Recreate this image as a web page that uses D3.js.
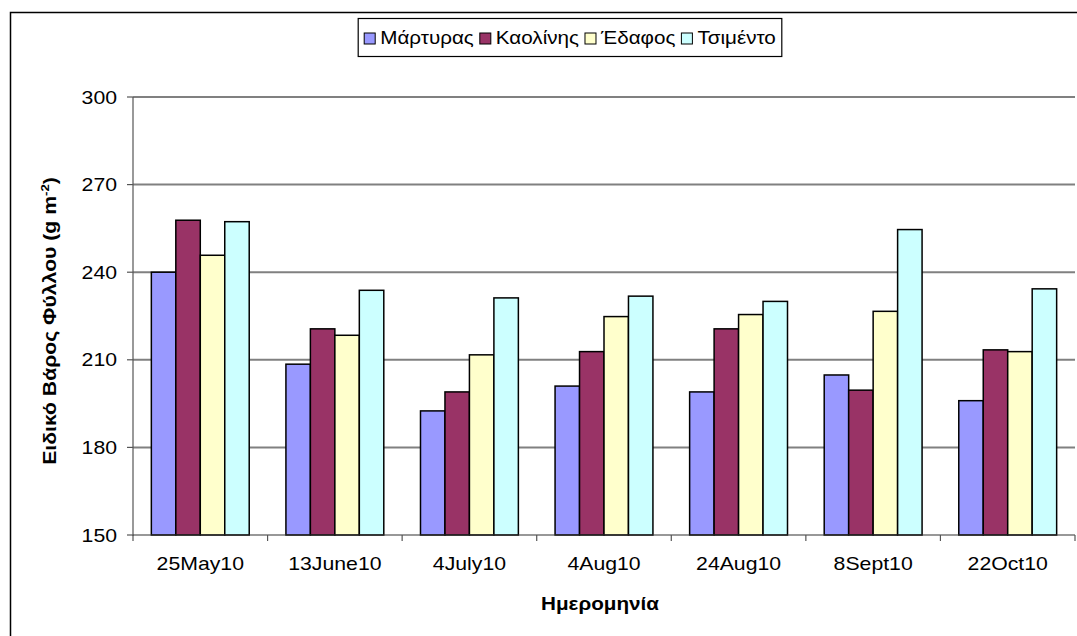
<!DOCTYPE html>
<html>
<head>
<meta charset="utf-8">
<script src="https://cdn.jsdelivr.net/npm/d3@7"></script>
<style>
    body { margin: 0; background: #fff; }
    text { font-family: "Liberation Sans", Arial, sans-serif; fill: #000; }
</style>
</head>
<body>
<div id="chart"></div>
<script>
// values
var categories = ["25May10", "13June10", "4July10", "4Aug10", "24Aug10", "8Sept10", "22Oct10"];
var seriesNames = ["Μάρτυρας", "Καολίνης", "Έδαφος", "Τσιμέντο"];
var martyras = [240, 208.5, 192.5, 201, 199, 204.8, 196];
var kaolinis = [257.8, 220.6, 199, 212.8, 220.6, 199.6, 213.4];
var edafos = [245.8, 218.4, 211.7, 224.8, 225.5, 226.6, 212.8];
var tsimento = [257.3, 233.8, 231.2, 231.8, 230, 254.6, 234.3];
var yTicks = [150, 180, 210, 240, 270, 300];
var colors = ["#9999FF", "#993366", "#FFFFCC", "#CCFFFF"];

var width = 1077, height = 636;
var stretch = 1.18; // the original picture is stretched sideways
var margin = { left: 133, right: 2, top: 97, bottom: 101 };

var svg = d3.select("#chart").append("svg")
    .attr("width", width)
    .attr("height", height);

// outer chart border (runs off the right and bottom of the picture)
svg.append("rect")
    .attr("x", 10.5).attr("y", 12.5)
    .attr("width", 1200).attr("height", 800)
    .attr("fill", "#fff").attr("stroke", "#000").attr("stroke-width", 1.5);

var x0 = d3.scaleBand()
    .domain(categories)
    .range([margin.left, width - margin.right]);

var gap = x0.bandwidth() / 5.5 * 0.75; // excel gap width 150%
var x1 = d3.scaleBand()
    .domain(d3.range(seriesNames.length))
    .range([gap, x0.bandwidth() - gap]);

var y = d3.scaleLinear()
    .domain([150, 300])
    .range([height - margin.bottom, margin.top]);

var table = categories.map(function (c, i) {
    return { cat: c, values: [martyras[i], kaolinis[i], edafos[i], tsimento[i]] };
});

function stretchedText(parent, x, yy, str, anchor) {
    var g = parent.append("g")
        .attr("transform", "translate(" + x + "," + yy + ") scale(" + stretch + ",1)");
    return g.append("text")
        .attr("text-anchor", anchor || "middle")
        .text(str);
}

// gridlines
svg.append("g").selectAll("line")
    .data(yTicks.slice(1))
    .enter().append("line")
    .attr("x1", margin.left).attr("x2", width - margin.right)
    .attr("y1", function (d) { return y(d); })
    .attr("y2", function (d) { return y(d); })
    .attr("stroke", "#808080").attr("stroke-width", 2);

// bars
var groups = svg.append("g").selectAll("g")
    .data(table)
    .enter().append("g")
    .attr("transform", function (d) { return "translate(" + x0(d.cat) + ",0)"; });

groups.selectAll("rect")
    .data(function (d) { return d.values; })
    .enter().append("rect")
    .attr("x", function (d, i) { return x1(i); })
    .attr("y", function (d) { return y(d); })
    .attr("width", x1.bandwidth())
    .attr("height", function (d) { return y(150) - y(d); })
    .attr("fill", function (d, i) { return colors[i]; })
    .attr("stroke", "#000").attr("stroke-width", 1.5);

// y axis
svg.append("line")
    .attr("x1", margin.left).attr("x2", margin.left)
    .attr("y1", y(300)).attr("y2", y(150) + 1)
    .attr("stroke", "#555").attr("stroke-width", 1.2);

svg.append("g").selectAll("line")
    .data(yTicks)
    .enter().append("line")
    .attr("x1", margin.left - 6).attr("x2", margin.left)
    .attr("y1", function (d) { return y(d); })
    .attr("y2", function (d) { return y(d); })
    .attr("stroke", "#555").attr("stroke-width", 1.2);

var yLabels = svg.append("g");
yTicks.forEach(function (t) {
    stretchedText(yLabels, 117, y(t) + 6.5, t, "end")
        .style("font-size", "18px");
});

// x axis
svg.append("line")
    .attr("x1", margin.left).attr("x2", width - margin.right)
    .attr("y1", y(150)).attr("y2", y(150))
    .attr("stroke", "#333").attr("stroke-width", 1.2);

svg.append("g").selectAll("line")
    .data(categories.concat(["end"]))
    .enter().append("line")
    .attr("x1", function (d, i) { return margin.left + i * x0.step(); })
    .attr("x2", function (d, i) { return margin.left + i * x0.step(); })
    .attr("y1", y(150)).attr("y2", y(150) + 6)
    .attr("stroke", "#555").attr("stroke-width", 1.2);

var xLabels = svg.append("g");
categories.forEach(function (c) {
    stretchedText(xLabels, x0(c) + x0.bandwidth() / 2, 570, c)
        .style("font-size", "18px");
});

// axis titles
stretchedText(svg, 600, 610, "Ημερομηνία")
    .style("font-size", "17.5px").style("font-weight", "bold");

var yTitleG = svg.append("g");
var yTitle = yTitleG.append("text")
    .attr("text-anchor", "middle")
    .style("font-size", "16px").style("font-weight", "bold");
yTitle.append("tspan").text("Ειδικό Βάρος Φύλλου (g m");
yTitle.append("tspan").attr("dy", -6).style("font-size", "10px").text("-2");
yTitle.append("tspan").attr("dy", 6).text(")");
var titleLen = yTitle.node().getComputedTextLength();
yTitleG.attr("transform", "translate(56,321) rotate(-90) scale(" + (288 / titleLen) + ",1.1)");

// legend
var legend = svg.append("g");
var lx = 0;
seriesNames.forEach(function (name, i) {
    var item = legend.append("g");
    item.append("rect")
        .attr("x", 0).attr("y", -11)
        .attr("width", 11).attr("height", 11)
        .attr("fill", colors[i]).attr("stroke", "#000").attr("stroke-width", 1);
    var t = stretchedText(item, 16, 0, name, "start").style("font-size", "17.5px");
    var w = 16 + t.node().getComputedTextLength() * stretch;
    item.attr("transform", "translate(" + lx + ",44)");
    lx += w + 6;
});
var legendW = lx - 6 + 12;
var legendX = 570 - legendW / 2;
legend.insert("rect", ":first-child")
    .attr("x", -6).attr("y", 18.5)
    .attr("width", legendW).attr("height", 38)
    .attr("fill", "#fff").attr("stroke", "#000").attr("stroke-width", 1.2);
legend.attr("transform", "translate(" + (legendX + 6) + ",0)");
</script>
</body>
</html>
